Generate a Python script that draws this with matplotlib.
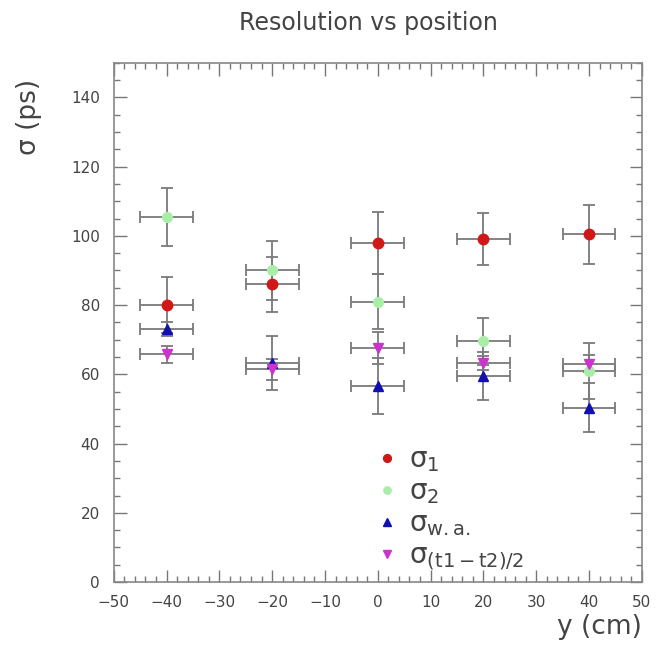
import matplotlib
matplotlib.use("Agg")
import matplotlib.pyplot as plt
from matplotlib.ticker import MultipleLocator

# positions along the counter (cm)
positions = [-40, -20, 0, 20, 40]
x_err = [5, 5, 5, 5, 5]

# resolutions (ps) and their errors
sigma1 = [80, 86, 98, 99.2, 100.5]
sigma1_err = [8, 8, 9, 7.5, 8.5]
sigma2 = [105.5, 90, 81, 69.5, 61]
sigma2_err = [8.3, 8.5, 8, 6.7, 8]
sigma_wa = [73, 63.3, 56.6, 59.5, 50.4]
sigma_wa_err = [2, 7.7, 8, 7, 7]
sigma_diff = [65.8, 61.5, 67.6, 63.3, 63.1]
sigma_diff_err = [2.5, 3, 4.5, 2, 2.5]

labels = ["σ$_\\mathrm{1}$", "σ$_\\mathrm{2}$", "σ$_\\mathrm{w.a.}$", "σ$_\\mathrm{(t1-t2)/2}$"]

plt.rcParams["mathtext.fontset"] = "dejavusans"
fig = plt.figure(figsize=(6.61, 6.54), dpi=100)
ax = fig.add_axes([0.172, 0.110, 0.799, 0.794])

series = [
    (sigma1, sigma1_err, "o", "#d01818", 7.5),
    (sigma2, sigma2_err, "o", "#a8eea8", 7),
    (sigma_wa, sigma_wa_err, "^", "#1010b0", 7.5),
    (sigma_diff, sigma_diff_err, "v", "#cc33cc", 7.5),
]
handles = []
for (vals, errs, m, c, ms), lab in zip(series, labels):
    ax.errorbar(positions, vals, xerr=x_err, yerr=errs, fmt="none",
                ecolor="#7a7a7a", elinewidth=1.3, capsize=4, capthick=1.3, zorder=2)
    h, = ax.plot(positions, vals, linestyle="none", marker=m, color=c,
                 markersize=ms, markeredgecolor=c, zorder=3, label=lab)
    handles.append(h)

ax.set_xlim(-50, 50)
ax.set_ylim(0, 150)
ax.xaxis.set_major_locator(MultipleLocator(10))
ax.xaxis.set_minor_locator(MultipleLocator(2))
ax.yaxis.set_major_locator(MultipleLocator(20))
ax.yaxis.set_minor_locator(MultipleLocator(5))
ax.set_yticks(range(0, 141, 20))
ax.tick_params(which="both", direction="in", top=True, right=True, color="#777777",
               labelcolor="#444444", labelsize=11)
ax.tick_params(which="major", length=9, width=1)
ax.tick_params(which="minor", length=4.5, width=1)
ax.tick_params(axis="y", pad=10)
ax.tick_params(axis="x", pad=9)
for s in ax.spines.values():
    s.set_color("#888888")
    s.set_linewidth(1.2)

fig.text(0.557, 0.965, "Resolution vs position", ha="center", va="center",
         fontsize=17, color="#444444")
ax.set_xlabel("y (cm)", fontsize=19, color="#444444", loc="right", labelpad=3)
ax.set_ylabel("σ (ps)", fontsize=19, color="#444444")
ax.yaxis.set_label_coords(-0.135, 0.895)

ax.legend(handles=handles, loc="upper left", bbox_to_anchor=(0.47, 0.29),
          frameon=False, fontsize=20, handlelength=0.8, handletextpad=0.4,
          labelspacing=0.12, borderpad=0, markerscale=0.75, labelcolor="#444444")

fig.savefig("out.png", dpi=100)
